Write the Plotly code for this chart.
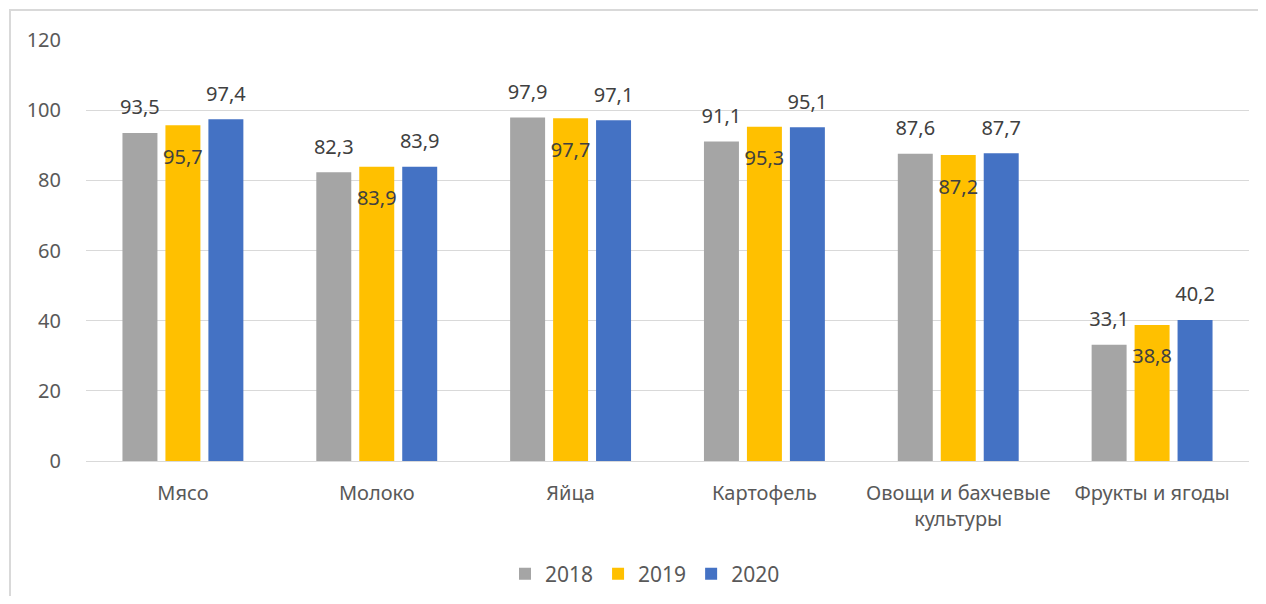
import plotly.graph_objects as go

categories = ["Мясо", "Молоко", "Яйца", "Картофель", "Овощи и бахчевые<br>культуры", "Фрукты и ягоды"]
years = ["2018", "2019", "2020"]
v2018 = [93.5, 82.3, 97.9, 91.1, 87.6, 33.1]
v2019 = [95.7, 83.9, 97.7, 95.3, 87.2, 38.8]
v2020 = [97.4, 83.9, 97.1, 95.1, 87.7, 40.2]
colors = ["#A5A5A5", "#FFC000", "#4472C4"]
y_ticks = [0, 20, 40, 60, 80, 100, 120]

FONT = "Noto Sans"
TXT = "#404040"
BARGAP = 0.335

fig = go.Figure()
series = list(zip(years, [v2018, v2019, v2020], colors))
for name, vals, col in series:
    fig.add_trace(go.Bar(
        name=name, x=categories, y=vals, offsetgroup=name,
        marker=dict(color=col, line=dict(width=0)),
        hoverinfo="skip",
    ))
for name, vals, col in series:
    below = name == "2019"
    fig.add_trace(go.Scatter(
        x=categories, y=vals, offsetgroup=name, mode="markers+text",
        text=[f"{v:.1f}".replace(".", ",") for v in vals],
        textposition="bottom center" if below else "top center",
        marker=dict(size=36 if below else 20, color="rgba(0,0,0,0)"),
        textfont=dict(family=FONT, size=20, color=TXT),
        showlegend=False, hoverinfo="skip", cliponaxis=False,
    ))

fig.update_layout(
    width=1250, height=588,
    margin=dict(l=78, r=9, t=32, b=135, autoexpand=False),
    paper_bgcolor="white", plot_bgcolor="white",
    barmode="group", bargap=BARGAP, bargroupgap=0.186,
    scattermode="group", scattergap=BARGAP,
    font=dict(family=FONT, color="#595959"),
    showlegend=True,
    legend=dict(orientation="h", x=(645 - 8) / 1250, xanchor="center", xref="container",
                y=1 - 566 / 588, yanchor="middle", yref="container",
                font=dict(family=FONT, size=21, color="#595959"), traceorder="normal",
                itemwidth=30),
)
fig.update_yaxes(range=[0, 120], tickvals=y_ticks, showgrid=True, gridcolor="#D9D9D9", gridwidth=1,
                 zeroline=False, showline=False, ticks="", ticklabelstandoff=24,
                 tickfont=dict(family=FONT, size=20, color="#595959"))
fig.update_xaxes(showline=True, linecolor="#D9D9D9", linewidth=1, ticks="", ticklabelstandoff=14,
                 tickfont=dict(family=FONT, size=20, color="#595959"))

fig.add_shape(type="rect", xref="paper", yref="paper",
              x0=(2 - 78) / 1163, x1=(1265 - 78) / 1163,
              y0=-(200 / 421), y1=1 + 30 / 421,
              line=dict(color="#D9D9D9", width=2), fillcolor="rgba(0,0,0,0)", layer="below")

fig.write_html("out.html")
